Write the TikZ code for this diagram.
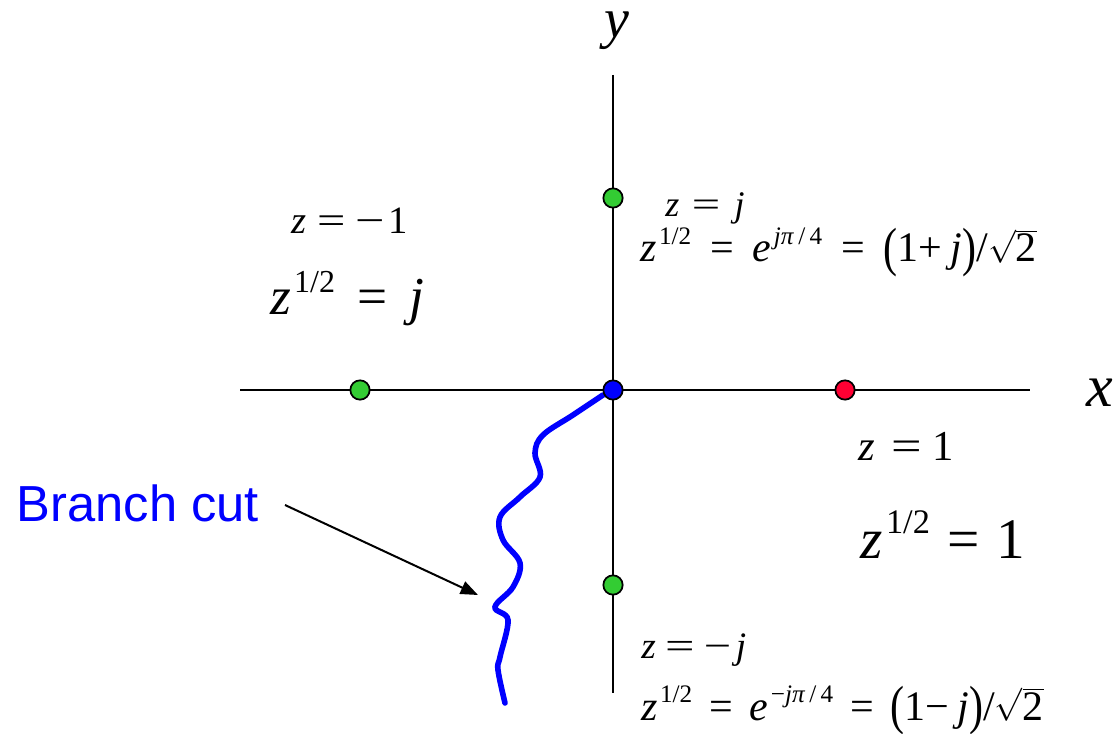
\documentclass[tikz,border=0pt]{standalone}
\usepackage{fontspec}
\usepackage{graphicx}
\setmainfont{Liberation Serif}
\newfontfamily\arialfont{Liberation Sans}
\usetikzlibrary{arrows.meta}
\newcommand\iv[1]{\textit{#1}}
% text equals with gap #1
\newcommand\teq[1]{\hspace{#1}=\hspace{#1}}
% widened equals / minus: #1 horizontal scale
\newcommand\weq[1]{\scalebox{#1}[1]{=}}
\newcommand\wmin[1]{\scalebox{#1}[1]{−}}
\newcommand\supx[1]{\hspace{0.06em}\raisebox{0.42em}{\fontsize{0.6em}{0.7em}\selectfont #1}}
\newcommand\fs[1]{\fontsize{#1}{1.2\dimexpr#1\relax}\selectfont}
\newcommand\bigp[1]{\raisebox{-0.08em}{\scalebox{1}[1.28]{#1}}}
\newcommand\rtwo{$\sqrt{\mbox{2}}$}
\definecolor{ptgreen}{RGB}{51,204,51}
\definecolor{ptred}{RGB}{255,0,51}
\definecolor{ptblue}{RGB}{0,0,255}
\tikzset{
  axis/.style={line width=2.2pt, black},
  pt/.style={circle, draw=black, line width=1.3pt, minimum size=14.5pt, inner sep=0pt},
  lbl/.style={inner sep=0pt, anchor=base west},
  cut/.style={line width=4.2pt, ptblue, line cap=round},
  pointer/.style={line width=1.5pt, -{Triangle[length=13pt,width=10pt]}}
}
\begin{document}
\begin{tikzpicture}[x=0.75pt,y=-0.75pt]
\useasboundingbox (0,0) rectangle (1117,734);
% axes
\coordinate (xl) at (240,390);
\coordinate (xr) at (1030,390);
\coordinate (yt) at (613,75);
\coordinate (yb) at (613,693);
\draw[axis] (xl) -- (xr);
\draw[axis] (yt) -- (yb);
\node[inner sep=0pt, anchor=base] (ylab) at (617,38) {\fs{42pt}\iv{y}};
\node[inner sep=0pt, anchor=base] (xlab) at (1100,406) {\fs{45pt}\iv{x}};
% branch cut
\draw[cut] plot[smooth, tension=0.6] coordinates {(603,395) (573,415) (543,435) (535,453) (540,477) (520,497) (500,517) (503,540) (520,563) (513,587) (495,607) (508,620) (500,657) (498,670) (505,703)};
% points
\node[pt, fill=ptgreen] (pm1) at (360,390) {};
\node[pt, fill=ptblue] (p0) at (613,390) {};
\node[pt, fill=ptred] (p1) at (845,390) {};
\node[pt, fill=ptgreen] (pj) at (613,198) {};
\node[pt, fill=ptgreen] (pmj) at (613,585) {};
% labels
\node[lbl] (lm1a) at (291,234) {\fs{29pt}\iv{z}\hspace{0.3em}\weq{1.3}\hspace{0.25em}\wmin{1.35}\hspace{0.08em}1};
\node[lbl] (lm1b) at (270,315) {\fs{40pt}\iv{z}\supx{1/2}\teq{0.42em}\iv{j}};
\node[lbl] (lja) at (665,217) {\fs{27pt}\iv{z}\hspace{0.35em}\weq{1.4}\hspace{0.4em}\iv{j}};
\node[lbl] (ljb) at (640,262) {\fs{31.5pt}\iv{z}\supx{1/2}\teq{0.45em}\iv{e}\supx{\iv{j}\iv{π}\,/\,4}\teq{0.45em}\bigp{(}1+\hspace{0.2em}\iv{j}\bigp{)}/\rtwo};
\node[lbl] (l1a) at (858,460) {\fs{32pt}\iv{z}\hspace{0.38em}\weq{1.27}\hspace{0.25em}1};
\node[lbl] (l1b) at (860,558) {\fs{43pt}\iv{z}\supx{1/2}\teq{0.3em}1};
\node[lbl] (lmja) at (641,658) {\fs{28pt}\iv{z}\hspace{0.25em}\weq{1.4}\hspace{0.25em}\wmin{1.3}\hspace{0.12em}\iv{j}};
\node[lbl] (lmjb) at (641,720) {\fs{31.5pt}\iv{z}\supx{1/2}\teq{0.4em}\iv{e}\supx{−\iv{j}\iv{π}\,/\,4}\teq{0.4em}\bigp{(}1−\hspace{0.2em}\iv{j}\bigp{)}/\rtwo};
% branch cut label
\node[inner sep=0pt, anchor=center, text=ptblue] (bc) at (138,503) {\arialfont\fs{38pt}Branch cut};
\coordinate (bctip) at (478,595);
\draw[pointer] (285,505) -- (bctip);
\end{tikzpicture}
\end{document}
